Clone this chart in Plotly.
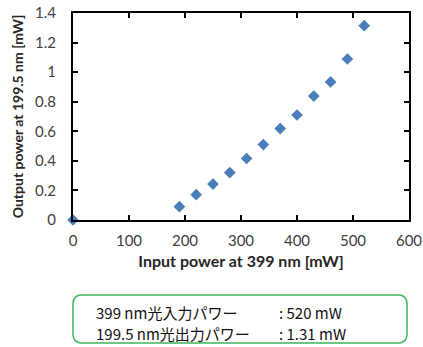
import plotly.graph_objects as go

input_power_mw = [0, 190, 220, 250, 280, 310, 340, 370, 400, 430, 460, 490, 520]
output_power_mw = [0, 0.09, 0.171, 0.243, 0.321, 0.416, 0.51, 0.618, 0.71, 0.838, 0.934, 1.089, 1.314]

x_ticks = [0, 100, 200, 300, 400, 500, 600]
y_ticks = [0, 0.2, 0.4, 0.6, 0.8, 1.0, 1.2, 1.4]
y_tick_labels = ["0", "0.2", "0.4", "0.6", "0.8", "1", "1.2", "1.4"]

box_labels = ["399 nm光入力パワー", "199.5 nm光出力パワー"]
box_values = [": 520 mW", ": 1.31 mW"]

W, H = 423, 347
L, R, T, B = 73, 14, 13, 127
pw, ph = W - L - R, H - T - B

def px(x):
    return (x - L) / pw

def py(y):
    return (H - B - y) / ph

fig = go.Figure()
fig.add_trace(go.Scatter(
    x=input_power_mw, y=output_power_mw, mode="markers",
    marker=dict(symbol="diamond", size=9, color="#4A7EBB"),
    showlegend=False, cliponaxis=False,
))

axis_common = dict(
    showline=True, linecolor="black", linewidth=2, mirror="ticks",
    ticks="inside", ticklen=5, tickwidth=1.5, tickcolor="black",
    showgrid=False, zeroline=False, automargin=False,
    tickfont=dict(family="Lato, Open Sans, sans-serif", size=15, color="#404040"),
)

fig.update_xaxes(range=[0, 600], tickvals=x_ticks, ticklabelstandoff=6,
                 title=dict(text="<b>Input power at 399 nm [mW]</b>",
                            font=dict(family="Lato, Open Sans, sans-serif", size=16, color="#262626"),
                            standoff=8),
                 **axis_common)
fig.update_yaxes(range=[0, 1.4], tickvals=y_ticks, ticktext=y_tick_labels, ticklabelstandoff=12,
                 title=dict(text="<b>Output power at 199.5 nm [mW]</b>",
                            font=dict(family="Lato, Open Sans, sans-serif", size=14, color="#262626"),
                            standoff=8),
                 **axis_common)

# rounded box
x0, x1, y0, y1, r = 73, 407, 295, 343, 9
rx, ry = r / pw, r / ph
X0, X1, Y0, Y1 = px(x0), px(x1), py(y1), py(y0)
path = (f"M {X0+rx},{Y1} L {X1-rx},{Y1} Q {X1},{Y1} {X1},{Y1-ry} "
        f"L {X1},{Y0+ry} Q {X1},{Y0} {X1-rx},{Y0} L {X0+rx},{Y0} "
        f"Q {X0},{Y0} {X0},{Y0+ry} L {X0},{Y1-ry} Q {X0},{Y1} {X0+rx},{Y1} Z")
fig.add_shape(type="path", xref="paper", yref="paper", path=path,
              line=dict(color="#3CB55A", width=1.5), fillcolor="white")

jp_font = dict(family="Noto Sans CJK JP, sans-serif", size=15, color="#111111")
for i, (lab, val) in enumerate(zip(box_labels, box_values)):
    yy = py(312 + 21 * i)
    fig.add_annotation(x=px(95), y=yy, xref="paper", yref="paper", text=lab,
                       showarrow=False, xanchor="left", yanchor="middle", font=jp_font,
                       borderpad=0)
    fig.add_annotation(x=px(278), y=yy, xref="paper", yref="paper", text=val,
                       showarrow=False, xanchor="left", yanchor="middle", font=jp_font,
                       borderpad=0)

fig.update_layout(
    width=W, height=H, margin=dict(l=L, r=R, t=T, b=B),
    plot_bgcolor="white", paper_bgcolor="white",
)
fig.write_html("out.html", config={"displayModeBar": False},
               post_script="document.body.style.margin='0';document.body.style.overflow='hidden';")
